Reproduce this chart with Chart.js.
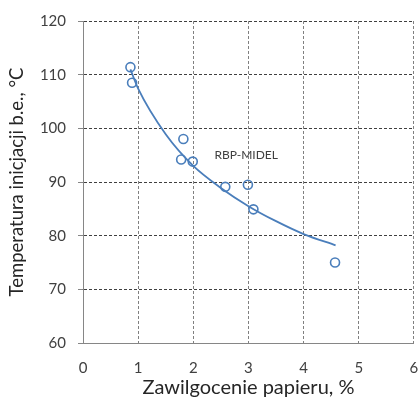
<!DOCTYPE html>
<html>
<head>
<meta charset="utf-8">
<script src="https://cdn.jsdelivr.net/npm/chart.js@4"></script>
<style>
  html, body { margin: 0; padding: 0; background: #fff; }
</style>
</head>
<body>
<canvas id="myChart" width="420" height="398"></canvas>
<script>
// measured points
var moistureX = [0.86, 0.89, 1.82, 1.78, 1.99, 2.58, 2.99, 3.09, 4.57];
var tempY = [111.4, 108.5, 98.0, 94.2, 93.8, 89.1, 89.5, 84.9, 75.0];

// trend line
var trendX = [0.86, 1, 1.5, 2, 2.5, 3, 3.5, 4, 4.58];
var trendY = [111.0, 107.4, 98.9, 93.0, 88.9, 85.5, 82.7, 80.3, 78.2];

var xTicks = [0, 1, 2, 3, 4, 5, 6];
var yTicks = [60, 70, 80, 90, 100, 110, 120];

var seriesLabel = 'RBP-MIDEL';
var labelAt = { x: 2.96, y: 95 };

var blue = '#4a7ebb';
var font = 'Lato, "Open Sans", sans-serif';

function pairs(xs, ys) {
    return xs.map(function (x, i) { return { x: x, y: ys[i] }; });
}

var seriesText = {
    id: 'seriesText',
    afterDatasetsDraw: function (chart) {
        var c = chart.ctx;
        c.save();
        c.font = '12px ' + font;
        c.fillStyle = '#404040';
        c.textAlign = 'center';
        c.textBaseline = 'middle';
        c.fillText(seriesLabel, chart.scales.x.getPixelForValue(labelAt.x), chart.scales.y.getPixelForValue(labelAt.y));
        c.restore();
    }
};

var ctx = document.getElementById('myChart').getContext('2d');
var myChart = new Chart(ctx, {
    type: 'scatter',
    data: {
        datasets: [
            {
                label: 'trend',
                data: pairs(trendX, trendY),
                showLine: true,
                borderColor: blue,
                borderWidth: 1.8,
                pointRadius: 0,
                cubicInterpolationMode: 'monotone'
            },
            {
                label: seriesLabel,
                data: pairs(moistureX, tempY),
                showLine: false,
                pointRadius: 4.5,
                pointBorderWidth: 1.6,
                pointBorderColor: blue,
                pointBackgroundColor: 'rgba(0,0,0,0)'
            }
        ]
    },
    options: {
        responsive: false,
        animation: false,
        layout: { padding: { top: 15, right: 1, left: 0, bottom: 0 } },
        plugins: {
            legend: { display: false },
            tooltip: { enabled: false }
        },
        scales: {
            x: {
                type: 'linear',
                min: 0,
                max: 6,
                afterBuildTicks: function (s) { s.ticks = xTicks.map(function (v) { return { value: v }; }); },
                afterFit: function (s) { s.height = 55; },
                ticks: { color: '#404040', font: { family: font, size: 15 }, padding: 0 },
                grid: {
                    color: function (c) { return c.tick && c.tick.value === 0 ? 'rgba(0,0,0,0)' : '#808080'; },
                    drawTicks: true, tickLength: 16, tickColor: 'rgba(0,0,0,0)', lineWidth: 1
                },
                border: { color: '#868686', width: 1, dash: [3, 2] },
                title: {
                    display: true,
                    text: 'Zawilgocenie papieru, %',
                    color: '#262626',
                    font: { family: font, size: 20 },
                    padding: { bottom: -2 }
                }
            },
            y: {
                min: 60,
                max: 120,
                afterBuildTicks: function (s) { s.ticks = yTicks.map(function (v) { return { value: v }; }); },
                afterFit: function (s) { s.width = 83; },
                ticks: { color: '#404040', font: { family: font, size: 15 }, padding: 12 },
                grid: {
                    color: function (c) { return c.tick && c.tick.value === 60 ? 'rgba(0,0,0,0)' : '#404040'; },
                    tickColor: '#868686', tickBorderDash: [], tickLength: 5, lineWidth: 1
                },
                border: { color: '#868686', width: 1, dash: [3, 2] },
                title: {
                    display: true,
                    text: 'Temperatura inicjacji b.e., °C',
                    color: '#262626',
                    font: { family: font, size: 18.5 },
                    padding: { top: 6 }
                }
            }
        }
    },
    plugins: [seriesText]
});
</script>
</body>
</html>
